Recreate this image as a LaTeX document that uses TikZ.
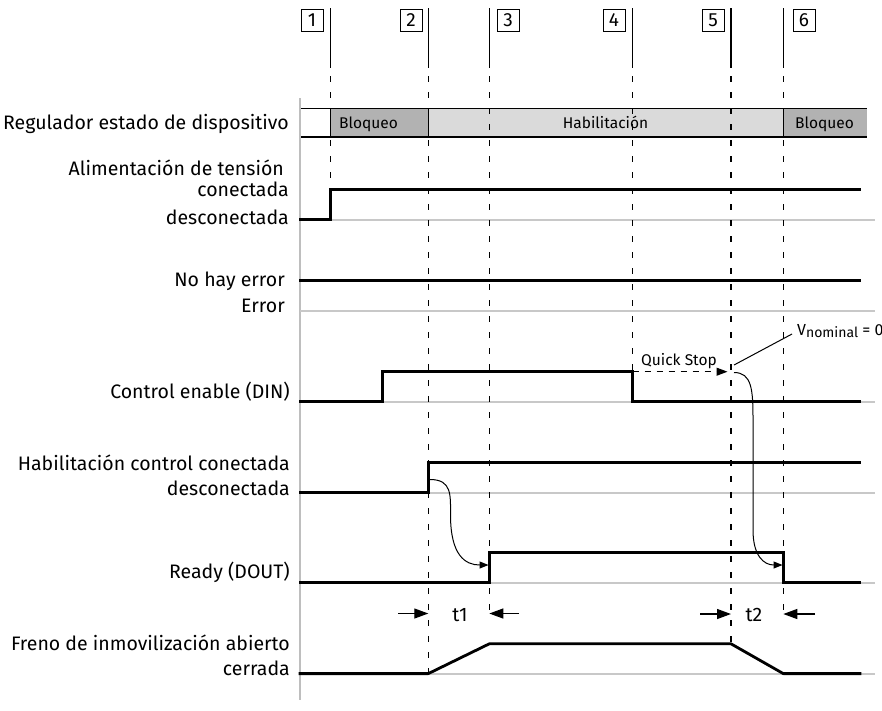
\documentclass[tikz,border=0pt]{standalone}
\usepackage{fontspec}
\setmainfont{Fira Sans}
\usetikzlibrary{arrows.meta}
\definecolor{basegray}{RGB}{200,200,200}
\definecolor{axisgray}{RGB}{190,190,190}
\definecolor{bardark}{RGB}{178,178,178}
\definecolor{barlight}{RGB}{218,218,218}
\tikzset{
  sig/.style={line width=2.8pt, line join=miter, line cap=rect},
  baseln/.style={line width=2pt, basegray},
  evsolid/.style={line width=1.2pt},
  evdash/.style={line width=1.2pt, dash pattern=on 6pt off 10pt},
  numbox/.style={draw, line width=0.9pt, minimum size=22pt, inner sep=0pt, font=\fontsize{19}{21}\selectfont},
  lbl/.style={anchor=base east, inner sep=0pt, font=\fontsize{19.5}{22}\selectfont},
  bartxt/.style={anchor=base west, inner sep=0pt, font=\fontsize{15.5}{18}\selectfont},
  small/.style={inner sep=0pt, font=\fontsize{15.5}{18}\selectfont},
  ttxt/.style={anchor=base, inner sep=0pt, font=\fontsize{19.5}{22}\selectfont},
  bigtip/.style={-{Triangle[length=14pt,width=10pt]}, line width=1.2pt},
  curvarr/.style={-{Triangle[length=9pt,width=7pt]}, line width=1pt},
}
\begin{document}
\begin{tikzpicture}[x=1pt,y=-1pt]
\useasboundingbox[fill=white] (0,0) rectangle (882,710);

% event x positions
\def\xa{330.7}\def\xb{428.3}\def\xc{489.3}\def\xd{632.7}\def\xe{731}\def\xf{783.3}

% numbered boxes
\node[numbox] (n1) at (312,20) {1};
\node[numbox] (n2) at (411,20) {2};
\node[numbox] (n3) at (508,20) {3};
\node[numbox] (n4) at (614,20) {4};
\node[numbox] (n5) at (713,20) {5};
\node[numbox] (n6) at (804,20) {6};

% state bar
\fill[bardark] (\xa,108.3) rectangle (\xb,137);
\fill[barlight] (\xb,108.3) rectangle (\xf,137);
\fill[bardark] (\xf,108.3) rectangle (866.7,137);
\draw[line width=1.2pt] (300,108.3) -- (866.7,108.3);
\draw[line width=1.2pt] (300,137) -- (866.7,137);
\draw[line width=1.2pt] (\xa,108.3) -- (\xa,137);
\draw[line width=1.2pt] (\xb,108.3) -- (\xb,137);
\draw[line width=1.2pt] (\xf,108.3) -- (\xf,137);
\node[bartxt] (b1) at (339,128) {Bloqueo};
\node[small, anchor=base] (b2) at (605.5,128) {Habilitación};
\node[bartxt] (b3) at (795,128) {Bloqueo};

% axis
\draw[line width=2pt, axisgray] (300,98) -- (300,700);

% baselines
\foreach \y in {220,311,402,493,583,674}
  \draw[baseln] (300,\y) -- (875,\y);

% event lines
\foreach \x in {\xa,\xb,\xc,\xd,\xe,\xf}
  \draw[evsolid] (\x,8) -- (\x,68);
\draw[evdash] (\xa,76) -- (\xa,189);
\draw[evdash] (\xb,76) -- (\xb,674);
\draw[evdash] (\xc,76) -- (\xc,620);
\draw[evdash] (\xd,76) -- (\xd,372);
\draw[evdash] (\xe,76) -- (\xe,644);
\draw[evdash] (\xf,76) -- (\xf,620);

% signals
\draw[sig] (300,219.5) -- (\xa,219.5) -- (\xa,189.3) -- (860,189.3);
\draw[sig] (300,280.7) -- (860,280.7);
\draw[sig] (300,401.7) -- (382.7,401.7) -- (382.7,371.7) -- (\xd,371.7) -- (\xd,401.7) -- (860,401.7);
\draw[sig] (300,492.7) -- (\xb,492.7) -- (\xb,462.5) -- (860,462.5);
\draw[sig] (300,582.8) -- (\xc,582.8) -- (\xc,552.7) -- (\xf,552.7) -- (\xf,582.8) -- (860,582.8);
\draw[sig, line join=round] (300,673.6) -- (\xb,673.6) -- (\xc,643.8) -- (\xe,643.8) -- (\xf,673.6) -- (860,673.6);

% labels
\node[lbl] (l1) at (289,129.3) {Regulador estado de dispositivo};
\node[lbl] (l2) at (284,175) {Alimentación de tensión};
\node[lbl] (l3) at (289,196.7) {conectada};
\node[lbl] (l4) at (289,224) {desconectada};
\node[lbl] (l5) at (285,286.7) {No hay error};
\node[lbl] (l6) at (285,312.7) {Error};
\node[lbl] (l7) at (290,398) {Control enable (DIN)};
\node[lbl] (l8) at (290,470) {Habilitación control conectada};
\node[lbl] (l9) at (290,495) {desconectada};
\node[lbl] (l10) at (290,578) {Ready (DOUT)};
\node[lbl] (l11) at (290,650) {Freno de inmovilización abierto};
\node[lbl] (l12) at (290,675) {cerrada};

% quick stop
\coordinate (qs0) at (\xd,371.7);
\coordinate (qs1) at (727.5,371.7);
\draw[dash pattern=on 6pt off 6pt, line width=1pt, -{Triangle[length=11pt,width=8pt]}] (qs0) -- (qs1);
\node[small, anchor=base west] (qst) at (641,365) {Quick Stop};

% V nominal
\coordinate (vn0) at (734,365);
\coordinate (vn1) at (792,334);
\draw[line width=1pt] (vn0) -- (vn1);
\node[anchor=base west, inner sep=0pt, font=\fontsize{16}{19}\selectfont] (vn) at (797,335) {V\raisebox{-0.35ex}{\fontsize{14}{16}\selectfont nominal} = 0};

% curved arrows
\coordinate (c1s) at (430,479.5);
\coordinate (c1e) at (488.5,565);
\draw[curvarr] (c1s) .. controls (452,479.5) and (450.5,495) .. (450.5,515) .. controls (450.5,555) and (465,565) .. (c1e);
\coordinate (c2s) at (734,372.5);
\coordinate (c2e) at (782.5,565);
\draw[curvarr] (c2s) .. controls (752,372.5) and (753,390) .. (753,420) -- (753,530) .. controls (753,556) and (764,565) .. (c2e);

% timing arrows
\coordinate (t1a) at (398,613.5);
\coordinate (t1b) at (\xb,613.5);
\coordinate (t1c) at (519,613.5);
\coordinate (t1d) at (\xc,613.5);
\draw[bigtip] (t1a) -- (t1b);
\draw[bigtip] (t1c) -- (t1d);
\node[ttxt] (t1) at (460,621.7) {t1};
\coordinate (t2a) at (700,614);
\coordinate (t2b) at (\xe,614);
\coordinate (t2c) at (815,614);
\coordinate (t2d) at (\xf,614);
\draw[bigtip] (t2a) -- (t2b);
\draw[bigtip] (t2c) -- (t2d);
\node[ttxt] (t2) at (754,621.7) {t2};
\end{tikzpicture}
\end{document}
